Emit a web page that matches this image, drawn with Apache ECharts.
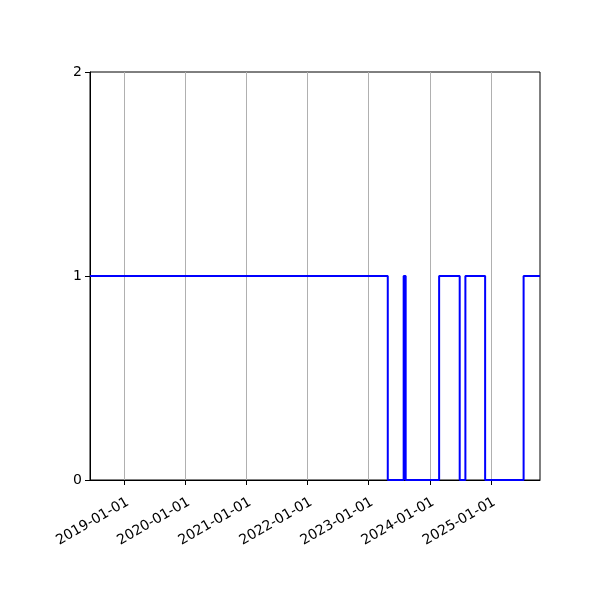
<!DOCTYPE html>
<html>
<head>
<meta charset="utf-8">
<script src="https://cdn.jsdelivr.net/npm/echarts@6/dist/echarts.min.js"></script>
<style>html,body{margin:0;padding:0;background:#fff}#c{width:600px;height:600px}</style>
</head>
<body>
<div id="c"></div>
<script>
var dates = ['2018-06-10','2023-04-25','2023-07-29','2023-08-10','2024-02-26','2024-06-28','2024-08-01','2024-11-27','2025-07-15','2025-10-21'];
var values = [1,0,1,0,1,0,1,0,1,1];
var tickYears = [2019,2020,2021,2022,2023,2024,2025];
var yTicks = [0,1,2];
var xMin = '2018-06-10', xMax = '2025-10-21';

function ts(s){ var p = s.split('-'); return Date.UTC(+p[0], +p[1]-1, +p[2]); }
var tickVals = tickYears.map(function(y){ return Date.UTC(y,0,1); });
function pad(n){ return (n<10?'0':'')+n; }

var chart = echarts.init(document.getElementById('c'));
chart.setOption({
  animation:false,
  grid:{left:90,right:60,top:72,bottom:120,show:true,borderColor:'#000',borderWidth:1,backgroundColor:'transparent'},
  xAxis:{
    type:'value', min:ts(xMin), max:ts(xMax),
    axisLine:{show:true,onZero:false,lineStyle:{color:'#000',width:1}},
    axisTick:{show:true,length:5,customValues:tickVals,lineStyle:{color:'#000'}},
    axisLabel:{customValues:tickVals,rotate:30,align:'right',verticalAlign:'top',color:'#000',fontSize:14,fontFamily:'DejaVu Sans',margin:15,
      formatter:function(v){var d=new Date(v);return d.getUTCFullYear()+'-'+pad(d.getUTCMonth()+1)+'-'+pad(d.getUTCDate());}},
    splitLine:{show:true,lineStyle:{color:'#b0b0b0',width:1}}
  },
  yAxis:{
    type:'value', min:0, max:2, interval:1,
    axisLine:{show:true,lineStyle:{color:'#000',width:1}},
    axisTick:{show:true,length:5,lineStyle:{color:'#000'}},
    axisLabel:{color:'#000',fontSize:14,fontFamily:'DejaVu Sans',margin:8,
      formatter:function(v){return yTicks.indexOf(v)>=0?String(v):'';}},
    splitLine:{show:false}
  },
  series:[{
    type:'line', step:'end', showSymbol:false, symbol:'none',
    lineStyle:{color:'#0000ff',width:2}, clip:true,
    data:dates.map(function(d,i){return [ts(d),values[i]];})
  }]
});
</script>
</body>
</html>
